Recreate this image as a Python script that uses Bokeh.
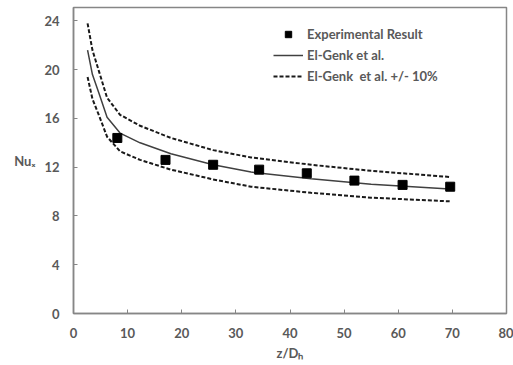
from bokeh.plotting import figure
from bokeh.models import Range1d, Legend, LegendItem, FixedTicker
from bokeh.embed import file_html
from bokeh.resources import INLINE

# Experimental data
exp_x = [8.1, 17.0, 25.8, 34.3, 43.1, 51.9, 60.8, 69.6]
exp_nu = [14.4, 12.6, 12.2, 11.8, 11.5, 10.9, 10.55, 10.4]

# El-Genk et al. correlation
corr_x = [2.6, 3.5, 4.75, 6.2, 8.6, 12.3, 18.0, 25.8, 32.8, 43.9, 55.0, 69.5]
corr_nu = [21.6, 19.6, 18.0, 16.1, 14.8, 14.0, 13.1, 12.2, 11.6, 11.05, 10.6, 10.22]
upper_nu = [23.8, 21.6, 19.8, 17.7, 16.3, 15.4, 14.4, 13.4, 12.8, 12.2, 11.7, 11.2]
lower_nu = [19.4, 17.6, 16.2, 14.5, 13.3, 12.6, 11.8, 11.0, 10.4, 9.9, 9.5, 9.2]

x_ticks = [0, 10, 20, 30, 40, 50, 60, 70, 80]
y_ticks = [0, 4, 8, 12, 16, 20, 24]

FONT = "Lato"
GRAY = "#595959"
AXIS = "#868686"

p = figure(width=513, height=365, output_backend="svg", toolbar_location=None,
           x_range=Range1d(0, 80), y_range=Range1d(0, 25.1),
           min_border_left=73, min_border_right=7, min_border_top=7, min_border_bottom=52)
p.grid.visible = False
p.outline_line_color = AXIS
p.outline_line_width = 1.5
p.background_fill_color = "white"
p.border_fill_color = "white"

for ax in (p.xaxis[0], p.yaxis[0]):
    ax.axis_line_color = AXIS
    ax.axis_line_width = 1.5
    ax.major_tick_line_color = AXIS
    ax.major_tick_in = 4
    ax.major_tick_out = 0
    ax.minor_tick_line_color = None
    ax.major_label_text_font = FONT
    ax.major_label_text_font_style = "bold"
    ax.major_label_text_font_size = "13px"
    ax.major_label_text_color = GRAY
    ax.axis_label_text_font = FONT
    ax.axis_label_text_font_style = "bold"
    ax.axis_label_text_font_size = "13px"
    ax.axis_label_text_color = GRAY

p.xaxis.ticker = FixedTicker(ticks=x_ticks)
p.yaxis.ticker = FixedTicker(ticks=y_ticks)
p.xaxis.major_label_standoff = 14
p.yaxis.major_label_standoff = 14
p.xaxis.axis_label = "z/D\u2095"
p.xaxis.axis_label_standoff = 4
p.yaxis.axis_label = "Nu\u2093"
p.yaxis.axis_label_orientation = "horizontal"
p.yaxis.axis_label_standoff = 6

r_up = p.line(corr_x, upper_nu, line_color="#1a1a1a", line_width=2, line_dash="4 2")
r_lo = p.line(corr_x, lower_nu, line_color="#1a1a1a", line_width=2, line_dash="4 2")
r_c = p.line(corr_x, corr_nu, line_color="#404040", line_width=1.5)
r_e = p.scatter(exp_x, exp_nu, marker="square", size=9, fill_color="black", line_color="black")

legend = Legend(items=[
    LegendItem(label="Experimental Result", renderers=[r_e]),
    LegendItem(label="El-Genk et al.", renderers=[r_c]),
    LegendItem(label="El-Genk  et al. +/- 10%", renderers=[r_up]),
], location=(200, 229), padding=0, margin=0, spacing=5,
    glyph_width=30, glyph_height=16, label_height=16, label_standoff=4,
    background_fill_alpha=0, border_line_color=None,
    label_text_font=FONT, label_text_font_style="bold",
    label_text_font_size="13px", label_text_color=GRAY)
p.add_layout(legend)

open("out.html", "w").write(file_html(p, INLINE))
